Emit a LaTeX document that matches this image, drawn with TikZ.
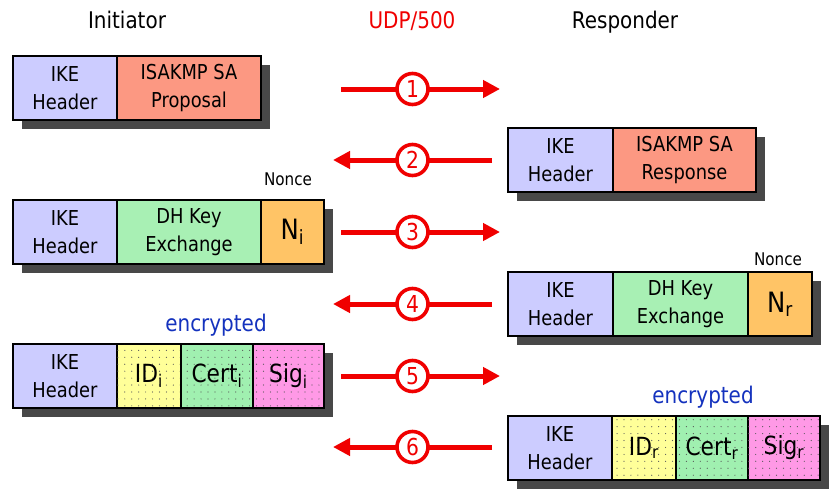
\documentclass[tikz,border=0pt]{standalone}
\usepackage{fontspec}
\setmainfont{DejaVu Sans}[FakeStretch=0.87]
\usetikzlibrary{arrows.meta,patterns.meta,backgrounds,calc}
\newlength\pxu \setlength\pxu{0.75pt}
\definecolor{ikec}{RGB}{204,204,255}
\definecolor{isac}{RGB}{252,152,130}
\definecolor{dhc}{RGB}{168,240,180}
\definecolor{noncec}{RGB}{255,196,102}
\definecolor{idc}{RGB}{255,255,153}
\definecolor{certc}{RGB}{160,240,176}
\definecolor{sigc}{RGB}{255,153,230}
\definecolor{shadc}{RGB}{72,72,72}
\definecolor{arrc}{RGB}{240,0,0}
\definecolor{encc}{RGB}{20,50,190}
\begin{document}
\begin{tikzpicture}[x=0.75pt,y=-0.75pt,
  cell/.style={draw=black, line width=0.8pt, anchor=north west, minimum height=64\pxu,
    inner sep=0pt, outer sep=0pt, align=center,
    font=\fontsize{15.4pt}{21.4pt}\selectfont},
  big/.style={font=\fontsize{18.75pt}{22pt}\selectfont},
  bigger/.style={font=\fontsize{21pt}{24pt}\selectfont},
  dotty/.style={postaction={pattern={Dots[distance=5.2pt,radius=0.45pt]}, pattern color=black!65}},
  title/.style={anchor=base, font=\fontsize{17.2pt}{20pt}\selectfont},
  noncelbl/.style={anchor=base, font=\fontsize{13.1pt}{15pt}\selectfont},
  enclbl/.style={anchor=base, text=encc, font=\fontsize{17.2pt}{20pt}\selectfont},
  msg/.style={draw=arrc, line width=3.75pt, -{Triangle[length=12.75pt,width=12.75pt]}},
  num/.style={circle, draw=arrc, line width=2.7pt, fill=white, text=arrc, minimum size=31\pxu,
    inner sep=0pt, font=\fontsize{17.5pt}{18pt}\selectfont},
  shadow/.style={fill=shadc}]
\begin{scope}[on background layer]
\fill[white] (0,0) rectangle (834,496);
\end{scope}
\useasboundingbox (0,0) rectangle (834,496);

% titles
\node[title] (tinit) at (127,28) {Initiator};
\node[title, text=arrc] (tudp) at (412,28) {UDP/500};
\node[title] (tresp) at (625,28) {Responder};

% row 1
\node[cell, fill=ikec, minimum width=104\pxu] (r1a) at (13,56) {IKE\\Header};
\node[cell, fill=isac, minimum width=144\pxu] (r1b) at (117,56) {ISAKMP SA\\Proposal};
% row 2
\node[cell, fill=ikec, minimum width=105\pxu] (r2a) at (508,128) {IKE\\Header};
\node[cell, fill=isac, minimum width=143\pxu] (r2b) at (613,128) {ISAKMP SA\\Response};
% row 3
\node[cell, fill=ikec, minimum width=104\pxu] (r3a) at (13,200) {IKE\\Header};
\node[cell, fill=dhc, minimum width=144\pxu] (r3b) at (117,200) {DH Key\\Exchange};
\node[cell, bigger, fill=noncec, minimum width=63\pxu] (r3c) at (261,200) {N\textsubscript{i}};
\node[noncelbl] (n3) at (288,185) {Nonce};
% row 4
\node[cell, fill=ikec, minimum width=105\pxu] (r4a) at (508,272) {IKE\\Header};
\node[cell, fill=dhc, minimum width=135\pxu] (r4b) at (613,272) {DH Key\\Exchange};
\node[cell, bigger, fill=noncec, minimum width=64\pxu] (r4c) at (748,272) {N\textsubscript{r}};
\node[noncelbl] (n4) at (778,265) {Nonce};
% row 5
\node[cell, fill=ikec, minimum width=104\pxu] (r5a) at (13,344) {IKE\\Header};
\node[cell, big, dotty, fill=idc, minimum width=64\pxu] (r5b) at (117,344) {ID\textsubscript{i}};
\node[cell, big, dotty, fill=certc, minimum width=72\pxu] (r5c) at (181,344) {Cert\textsubscript{i}};
\node[cell, big, dotty, fill=sigc, minimum width=71\pxu] (r5d) at (253,344) {Sig\textsubscript{i}};
\node[enclbl] (e5) at (216,331) {encrypted};
% row 6
\node[cell, fill=ikec, minimum width=104\pxu] (r6a) at (508,416) {IKE\\Header};
\node[cell, big, dotty, fill=idc, minimum width=64\pxu] (r6b) at (612,416) {ID\textsubscript{r}};
\node[cell, big, dotty, fill=certc, minimum width=72\pxu] (r6c) at (676,416) {Cert\textsubscript{r}};
\node[cell, big, dotty, fill=sigc, minimum width=72\pxu] (r6d) at (748,416) {Sig\textsubscript{r}};
\node[enclbl] (e6) at (703,403) {encrypted};

% shadows
\begin{scope}[on background layer]
\fill[shadow] ($(r1a.north west)+(9,9)$) rectangle ($(r1b.south east)+(9,9)$);
\fill[shadow] ($(r2a.north west)+(9,9)$) rectangle ($(r2b.south east)+(9,9)$);
\fill[shadow] ($(r3a.north west)+(9,9)$) rectangle ($(r3c.south east)+(9,9)$);
\fill[shadow] ($(r4a.north west)+(9,9)$) rectangle ($(r4c.south east)+(9,9)$);
\fill[shadow] ($(r5a.north west)+(9,9)$) rectangle ($(r5d.south east)+(9,9)$);
\fill[shadow] ($(r6a.north west)+(9,9)$) rectangle ($(r6d.south east)+(9,9)$);
\end{scope}

% arrows
\coordinate (a1s) at (341,89);  \coordinate (a1e) at (500,89);
\coordinate (a2s) at (492,160); \coordinate (a2e) at (333,160);
\coordinate (a3s) at (341,232); \coordinate (a3e) at (500,232);
\coordinate (a4s) at (492,304); \coordinate (a4e) at (333,304);
\coordinate (a5s) at (341,376); \coordinate (a5e) at (500,376);
\coordinate (a6s) at (492,447); \coordinate (a6e) at (333,447);
\draw[msg] (a1s) -- (a1e);
\draw[msg] (a2s) -- (a2e);
\draw[msg] (a3s) -- (a3e);
\draw[msg] (a4s) -- (a4e);
\draw[msg] (a5s) -- (a5e);
\draw[msg] (a6s) -- (a6e);
\node[num] (c1) at (412.5,89) {1};
\node[num] (c2) at (412.5,160) {2};
\node[num] (c3) at (412.5,232) {3};
\node[num] (c4) at (412.5,304) {4};
\node[num] (c5) at (412.5,376) {5};
\node[num] (c6) at (412.5,447) {6};
\end{tikzpicture}
\end{document}
